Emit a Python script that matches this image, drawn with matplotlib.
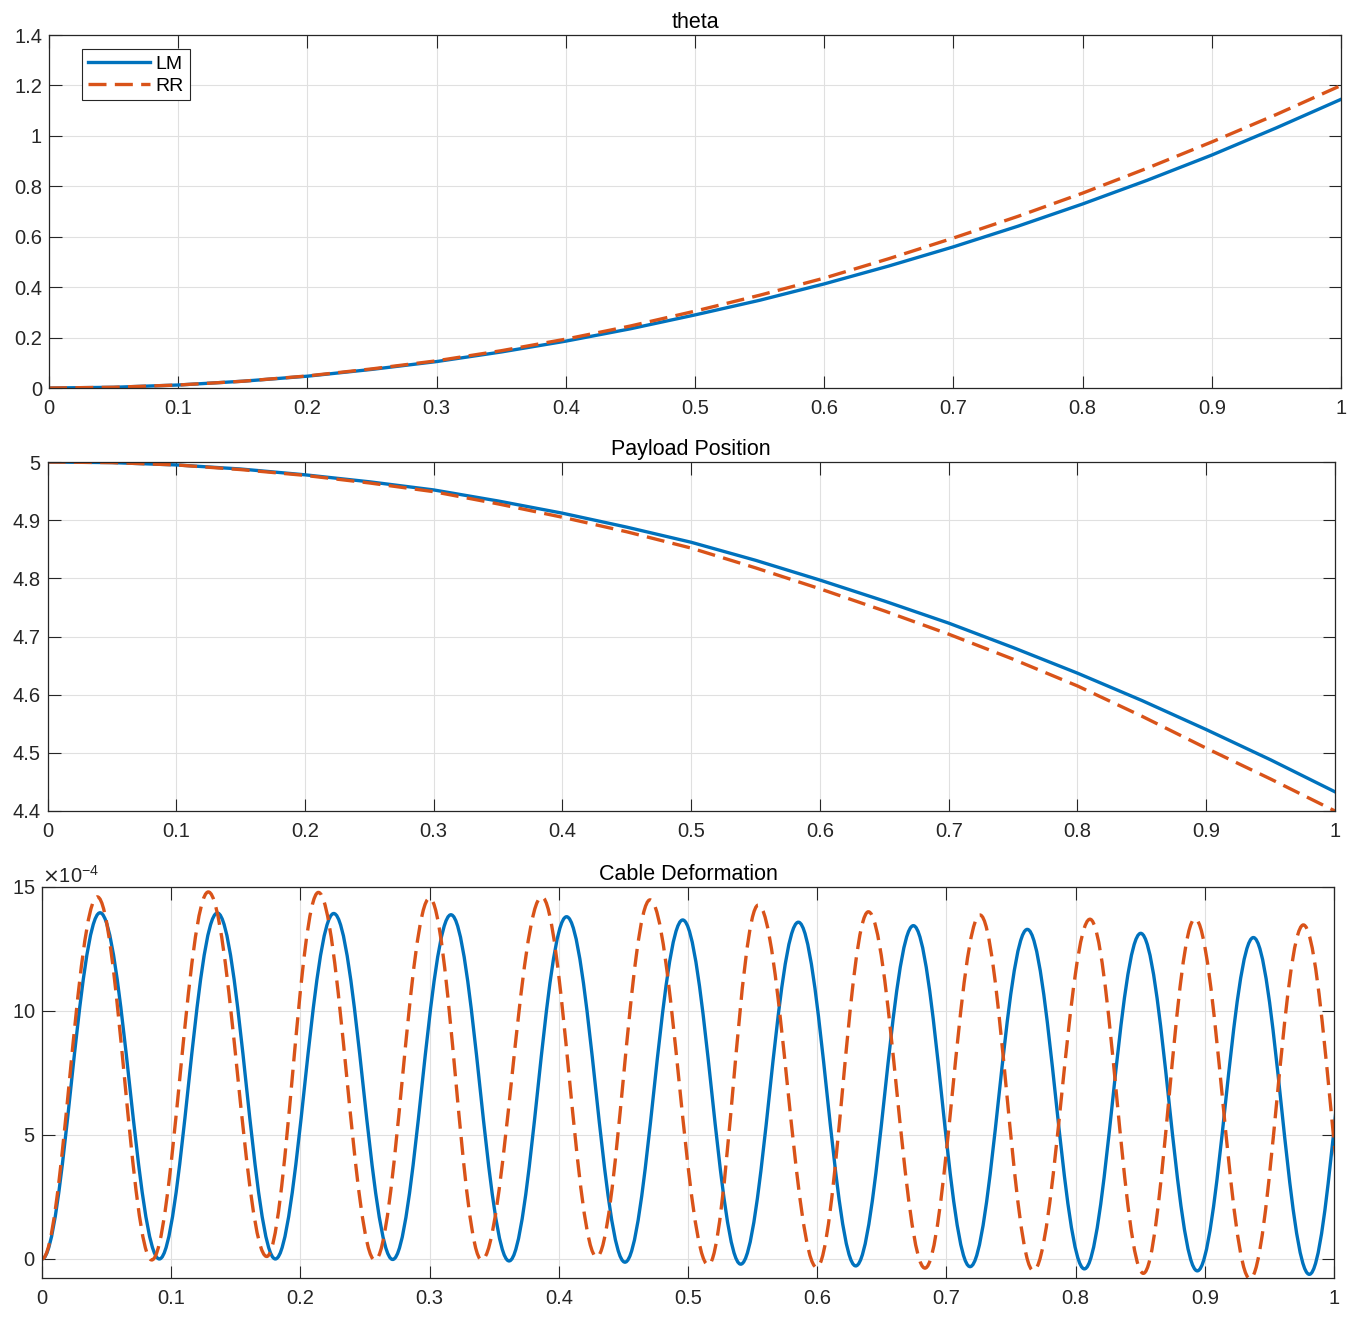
import numpy as np
import matplotlib.pyplot as plt
from matplotlib.path import Path
from matplotlib.patches import PathPatch
from matplotlib.ticker import ScalarFormatter, FuncFormatter, MultipleLocator

plt.rcParams['font.family'] = ['Liberation Sans', 'DejaVu Sans']

BLUE = '#0072BD'
ORANGE = '#D95319'

# time samples for the two slow signals
t = [0, 0.05, 0.1, 0.15, 0.2, 0.25, 0.3, 0.35, 0.4, 0.45, 0.5,
     0.55, 0.6, 0.65, 0.7, 0.75, 0.8, 0.85, 0.9, 0.95, 1.0]

theta_lm = [0, 0.003, 0.012, 0.027, 0.047, 0.074, 0.105, 0.143, 0.186, 0.235, 0.29,
            0.348, 0.413, 0.484, 0.56, 0.642, 0.73, 0.824, 0.924, 1.032, 1.145]
theta_rr = [0, 0.003, 0.012, 0.027, 0.048, 0.076, 0.108, 0.148, 0.194, 0.246, 0.305,
            0.368, 0.436, 0.513, 0.595, 0.681, 0.773, 0.872, 0.976, 1.085, 1.2]

pos_lm = [5.0, 4.999, 4.995, 4.988, 4.978, 4.966, 4.952, 4.933, 4.912, 4.888, 4.862,
          4.831, 4.797, 4.761, 4.723, 4.681, 4.637, 4.590, 4.54, 4.488, 4.433]
pos_rr = [5.0, 4.999, 4.995, 4.987, 4.977, 4.964, 4.949, 4.928, 4.905, 4.880, 4.852,
          4.818, 4.782, 4.744, 4.704, 4.661, 4.615, 4.563, 4.508, 4.455, 4.4]

# cable deformation: successive extremes (time, value in 1e-4)
lm_ext_t = [0, 0.0449, 0.0908, 0.1357, 0.1806, 0.2258, 0.2714, 0.3165, 0.3615,
            0.4060, 0.4512, 0.4959, 0.5408, 0.5854, 0.6298, 0.6744, 0.7183,
            0.7626, 0.8068, 0.8504, 0.8942, 0.9376, 0.9809, 1.0225]
lm_ext_v = [0, 13.96, 0, 13.95, 0, 13.93, -0.02, 13.88, -0.08, 13.80, -0.13,
            13.67, -0.21, 13.58, -0.28, 13.44, -0.31, 13.29, -0.40, 13.13,
            -0.48, 12.96, -0.62, 12.80]

rr_ext_t = [0, 0.0428, 0.0849, 0.1287, 0.1739, 0.2139, 0.2577, 0.3000, 0.3403,
            0.3868, 0.4293, 0.4706, 0.5157, 0.5544, 0.5996, 0.6396, 0.6834,
            0.7260, 0.7673, 0.8111, 0.8524, 0.8924, 0.9350, 0.9763, 1.0180]
rr_ext_v = [0, 14.60, -0.04, 14.80, 0.10, 14.78, -0.05, 14.55, -0.04, 14.60,
            0.08, 14.48, -0.24, 14.27, -0.34, 14.00, -0.37, 13.87, -0.47, 13.70,
            -0.58, 13.72, -0.80, 13.47, -0.90]


def smooth_path(ts, vs, scale=1e-4, a=0.3634):
    # cubic segments with flat tangents at every extreme
    verts = [(ts[0], vs[0] * scale)]
    codes = [Path.MOVETO]
    for i in range(len(ts) - 1):
        dt = ts[i + 1] - ts[i]
        verts += [(ts[i] + a * dt, vs[i] * scale),
                  (ts[i + 1] - a * dt, vs[i + 1] * scale),
                  (ts[i + 1], vs[i + 1] * scale)]
        codes += [Path.CURVE4] * 3
    return Path(verts, codes)


def style(ax, title):
    ax.set_title(title, fontsize=15.5, pad=5, color='k')
    ax.grid(True, color='#E0E0E0', linewidth=0.8)
    ax.set_axisbelow(True)
    ax.tick_params(direction='in', length=9, width=0.8, top=True, right=True,
                   labelsize=14.5, colors='#262626')
    ax.tick_params(axis='x', pad=8)
    ax.tick_params(axis='y', pad=5)
    for s in ax.spines.values():
        s.set_color('#262626')
        s.set_linewidth(0.9)
    ax.set_xlim(0, 1)
    ax.xaxis.set_major_locator(MultipleLocator(0.1))
    ax.xaxis.set_major_formatter(FuncFormatter(lambda v, p: '%g' % round(v, 3)))


fig = plt.figure(figsize=(13.65, 13.33), dpi=100)
ax1 = fig.add_axes([0.0359, 0.7089, 0.9465, 0.2648])
ax2 = fig.add_axes([0.0348, 0.3916, 0.9432, 0.2618])
ax3 = fig.add_axes([0.0308, 0.0413, 0.9465, 0.2933])

# theta
ax1.plot(t, theta_lm, color=BLUE, lw=2.4, label='LM')
ax1.plot(t, theta_rr, color=ORANGE, lw=2.4, ls=(0, (5.4, 2.5)), label='RR')
style(ax1, 'theta')
ax1.set_ylim(0, 1.4)
ax1.yaxis.set_major_locator(MultipleLocator(0.2))
ax1.yaxis.set_major_formatter(FuncFormatter(lambda v, p: '%g' % round(v, 3)))
leg = ax1.legend(loc='upper left', bbox_to_anchor=(0.0255, 0.960), borderaxespad=0,
                 fontsize=14, handlelength=3.2, handletextpad=0.3, labelspacing=0.22,
                 borderpad=0.3, fancybox=False, framealpha=1)
leg.get_frame().set_edgecolor('#262626')
leg.get_frame().set_linewidth(0.8)

# payload position
ax2.plot(t, pos_lm, color=BLUE, lw=2.4)
ax2.plot(t, pos_rr, color=ORANGE, lw=2.4, ls=(0, (5.4, 2.5)))
style(ax2, 'Payload Position')
ax2.set_ylim(4.4, 5.0)
ax2.yaxis.set_major_locator(MultipleLocator(0.1))
ax2.yaxis.set_major_formatter(FuncFormatter(lambda v, p: '%g' % round(v, 3)))

# cable deformation
ax3.add_patch(PathPatch(smooth_path(lm_ext_t, lm_ext_v), fill=False,
                        edgecolor=BLUE, lw=2.4))
ax3.add_patch(PathPatch(smooth_path(rr_ext_t, rr_ext_v), fill=False,
                        edgecolor=ORANGE, lw=2.4, ls=(0, (5.4, 2.5))))
style(ax3, 'Cable Deformation')
ax3.set_ylim(-0.766e-4, 15e-4)
ax3.yaxis.set_major_locator(MultipleLocator(5e-4))
fmt = ScalarFormatter(useMathText=True)
fmt.set_powerlimits((-4, -4))
ax3.yaxis.set_major_formatter(fmt)
ax3.yaxis.get_offset_text().set_fontsize(14.5)
ax3.yaxis.get_offset_text().set_color('#262626')

fig.savefig('out.png', dpi=100)
